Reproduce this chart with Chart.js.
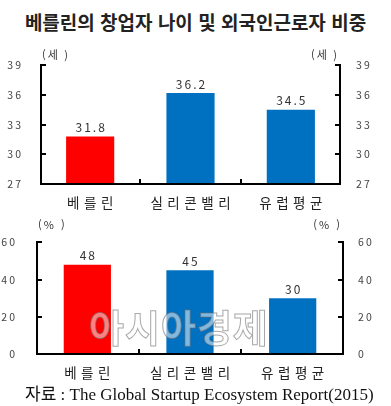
<!DOCTYPE html>
<html lang="ko">
<head>
<meta charset="utf-8">
<script src="https://cdn.jsdelivr.net/npm/chart.js@4.4.1/dist/chart.umd.min.js"></script>
<style>
  body { margin: 0; background: #fff; }
  #wrap { position: relative; width: 391px; height: 406px; overflow: hidden; background: #fff;
          font-family: "Noto Sans CJK KR", sans-serif; }
  #title { position: absolute; left: 0; top: 9px; width: 391px; text-align: center;
           font-weight: bold; font-size: 19px; line-height: 26px; color: #222; }
  canvas { position: absolute; left: 0; }
  #c1 { top: 40px; }
  #c2 { top: 215px; }
  #src { position: absolute; left: 25px; top: 380px; white-space: nowrap;
         font-family: "Liberation Serif", "Noto Sans CJK KR", serif; font-size: 17px; color: #111; }
  #wm { position: absolute; left: 89px; top: 298px; font-size: 38px; font-weight: bold; letter-spacing: 1px;
        color: rgba(255,255,255,0.5); -webkit-text-stroke: 1px rgba(110,110,110,0.6); white-space: nowrap; }
</style>
</head>
<body>
<div id="wrap">
  <div id="title">베를린의 창업자 나이 및 외국인근로자 비중</div>
  <canvas id="c1" width="391" height="175"></canvas>
  <canvas id="c2" width="391" height="170"></canvas>
  <div id="wm">아시아경제</div>
  <div id="src">자료 : The Global Startup Ecosystem Report(2015)</div>
</div>
<script>
// data
const categories = ['베를린', '실리콘밸리', '유럽 평균'];
const ageValues = [31.8, 36.2, 34.5];
const foreignValues = [48, 45, 30];
const ageTicks = [27, 30, 33, 36, 39];
const foreignTicks = [0, 20, 40, 60];
const barColors = ['#FF0000', '#0070C0', '#0070C0'];

const FONT = '"Noto Sans CJK KR", sans-serif';
const spaced = s => s.replace(/ /g, '').split('').join('\u2004');
const thin = v => String(v).split('').join('\u2009');

// axis lines, inward ticks, value labels and units
const decoPlugin = {
  id: 'deco',
  afterDatasetsDraw(chart, args, o) {
    const { ctx, chartArea: a, scales } = chart;
    const y = scales.y, x = scales.x;
    ctx.save();
    ctx.strokeStyle = '#000';
    ctx.lineWidth = 2;
    ctx.beginPath();
    ctx.moveTo(a.left + 1, a.top); ctx.lineTo(a.left + 1, a.bottom + 1);
    ctx.moveTo(a.left, a.bottom); ctx.lineTo(a.right, a.bottom);
    ctx.moveTo(a.right - 1, a.top); ctx.lineTo(a.right - 1, a.bottom + 1);
    y.ticks.forEach(t => {
      const py = Math.round(y.getPixelForValue(t.value));
      ctx.moveTo(a.left, py); ctx.lineTo(a.left + 6, py);
      ctx.moveTo(a.right, py); ctx.lineTo(a.right - 6, py);
    });
    for (let i = 1; i < x.ticks.length; i++) {
      const px = Math.round((x.getPixelForTick(i - 1) + x.getPixelForTick(i)) / 2);
      ctx.moveTo(px, a.bottom); ctx.lineTo(px, a.bottom - 5);
    }
    ctx.stroke();

    // value labels
    ctx.fillStyle = '#333';
    ctx.font = '12px ' + FONT;
    ctx.letterSpacing = '2px';
    ctx.textAlign = 'center';
    ctx.textBaseline = 'middle';
    const vals = chart.data.datasets[0].data;
    chart.getDatasetMeta(0).data.forEach((bar, i) => {
      ctx.fillText(String(vals[i]), bar.x + 1, bar.y - 9);
    });

    // units
    ctx.font = '11px ' + FONT;
    ctx.textAlign = 'left';
    ctx.fillText(o.unit, a.left + 2, o.unitY);
    ctx.textAlign = 'right';
    ctx.fillText(o.unit, a.right - 2, o.unitY);
    ctx.restore();
  }
};

function makeChart(id, values, ticks, unit, cfg) {
  const tickOpts = (pad) => ({
    padding: pad,
    color: '#444',
    font: { family: FONT, size: 10.5 },
    callback: v => thin(v)
  });
  return new Chart(document.getElementById(id), {
    type: 'bar',
    data: {
      labels: categories.map(spaced),
      datasets: [{
        data: values,
        backgroundColor: barColors,
        borderWidth: 0,
        categoryPercentage: 1,
        barPercentage: cfg.barPct
      }]
    },
    options: {
      responsive: false,
      animation: false,
      layout: { padding: { top: cfg.top, bottom: 0, left: 0, right: 0 } },
      plugins: {
        legend: { display: false },
        tooltip: { enabled: false },
        deco: { unit: unit, unitY: cfg.unitY }
      },
      scales: {
        x: {
          grid: { display: false, drawTicks: false },
          border: { display: false },
          ticks: { padding: 11, color: '#222', font: { family: FONT, size: 13.5 } },
          afterFit: s => { s.height = cfg.xh; }
        },
        y: {
          position: 'left',
          min: ticks[0], max: ticks[ticks.length - 1],
          grid: { display: false, drawTicks: false },
          border: { display: false },
          ticks: tickOpts(cfg.lpad),
          afterBuildTicks: s => { s.ticks = ticks.map(v => ({ value: v })); },
          afterFit: s => { s.width = cfg.lw; }
        },
        y2: {
          position: 'right',
          min: ticks[0], max: ticks[ticks.length - 1],
          grid: { display: false, drawTicks: false },
          border: { display: false },
          ticks: tickOpts(cfg.rpad),
          afterBuildTicks: s => { s.ticks = ticks.map(v => ({ value: v })); },
          afterFit: s => { s.width = cfg.rw; }
        }
      }
    },
    plugins: [decoPlugin]
  });
}

makeChart('c1', ageValues, ageTicks, '(세 )',
  { top: 21, xh: 31, lw: 40, rw: 50, lpad: 19, rpad: 15, barPct: 0.48, unitY: 15 });
makeChart('c2', foreignValues, foreignTicks, '(% )',
  { top: 16, xh: 31, lw: 36, rw: 47, lpad: 21, rpad: 14, barPct: 0.46, unitY: 10 });
</script>
</body>
</html>
